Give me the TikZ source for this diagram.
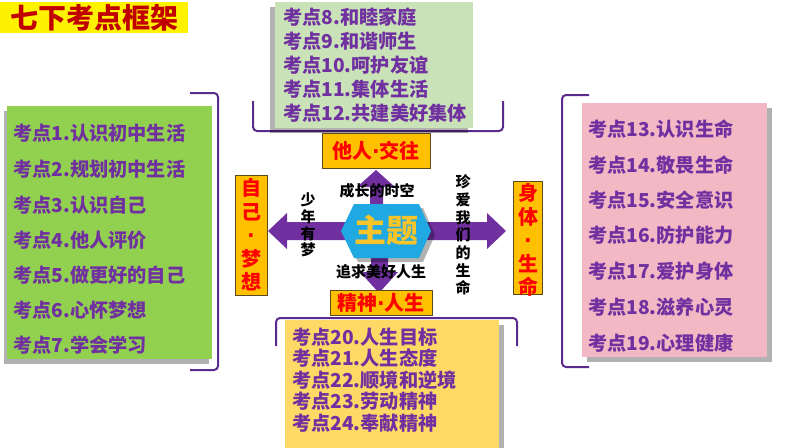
\documentclass[tikz,border=0pt]{standalone}
\usepackage{fontspec}
\setmainfont{Noto Sans CJK SC}
\newfontfamily\latinf{DejaVu Sans}
\usetikzlibrary{shadows}
\definecolor{itemc}{HTML}{7030A0}
\definecolor{titlec}{HTML}{C00000}
\definecolor{lgreen}{HTML}{C9E2B8}
\definecolor{dgreen}{HTML}{92D050}
\definecolor{pinkc}{HTML}{F2B8C4}
\definecolor{yelc}{HTML}{FFD966}
\definecolor{orangec}{HTML}{FFC000}
\definecolor{tagborder}{HTML}{5A4A20}
\definecolor{brkc}{HTML}{5B2A8E}
\definecolor{arrc}{HTML}{7030A0}
\definecolor{hexc}{HTML}{1FA8E2}
\definecolor{zhutic}{HTML}{F7C42A}
\newcommand{\ndot}{{\latinf\bfseries ·}}
\begin{document}
\begin{tikzpicture}[x=1pt,y=-1pt,
  kd/.style={anchor=west,inner sep=0pt,text=itemc,font=\bfseries\fontsize{19.2}{21}\selectfont},
  kdbig/.style={anchor=west,inner sep=0pt,text=itemc,font=\bfseries\fontsize{19.2}{22}\selectfont},
  boxnode/.style={anchor=north west,inner sep=0pt,draw=none},
  shad/.style={drop shadow={shadow xshift=#1,shadow yshift=-5pt,fill=black,opacity=0.3}},
  tag/.style={fill=orangec,draw=tagborder,line width=0.7pt,inner sep=0pt,text=red,font=\bfseries\fontsize{20}{23}\selectfont},
  vtag/.style={inner sep=0pt,text=red,align=center,font=\bfseries\fontsize{20}{23.5}\selectfont},
  brk/.style={draw=brkc,line width=2pt,rounded corners=4pt},
  arr/.style={fill=arrc,draw=none},
  lbl/.style={font=\bfseries\fontsize{15}{17}\selectfont,inner sep=0pt,align=center}
]
\useasboundingbox (0,0) rectangle (794,447);

% title
\node[boxnode,fill=yellow,minimum width=188pt,minimum height=31pt] (titlebox) at (0,2) {};
\node[inner sep=0pt,text=titlec,font=\bfseries\fontsize{28}{30}\selectfont] (title) at (94,18) {七下考点框架};

% brackets
\draw[brk] (190,93) -- (218,93) -- (218,370) -- (190,370);
\draw[brk] (589,95) -- (562,95) -- (562,367) -- (589,367);
\draw[brk] (253,101) -- (253,131) -- (503,131) -- (503,101);
\draw[brk] (276,346) -- (276,318) -- (517,318) -- (517,346);

% boxes
\node[boxnode,fill=lgreen,shad=-5pt,minimum width=198pt,minimum height=126pt] (topbox) at (275,2) {};
\node[boxnode,fill=dgreen,shad=-3pt,minimum width=205pt,minimum height=253pt] (leftbox) at (7,106) {};
\node[boxnode,fill=pinkc,shad=5pt,minimum width=185pt,minimum height=254pt] (rightbox) at (582,103) {};
\node[boxnode,fill=yelc,shad=5pt,minimum width=214pt,minimum height=128pt] (botbox) at (285,320) {};

% top items
\node[kdbig] (k8) at (283,17) {考点8.和睦家庭};
\node[kdbig] (k9) at (283,41) {考点9.和谐师生};
\node[kdbig] (k10) at (283,65) {考点10.呵护友谊};
\node[kdbig] (k11) at (283,89) {考点11.集体生活};
\node[kdbig] (k12) at (283,113) {考点12.共建美好集体};

% left items
\node[kd] (k1) at (13,133) {考点1.认识初中生活};
\node[kd] (k2) at (13,169) {考点2.规划初中生活};
\node[kd] (k3) at (13,205) {考点3.认识自己};
\node[kd] (k4) at (13,240) {考点4.他人评价};
\node[kd] (k5) at (13,275) {考点5.做更好的自己};
\node[kd] (k6) at (13,310) {考点6.心怀梦想};
\node[kd] (k7) at (13,345) {考点7.学会学习};

% right items
\node[kd] (k13) at (588,129) {考点13.认识生命};
\node[kd] (k14) at (588,165) {考点14.敬畏生命};
\node[kd] (k15) at (588,200) {考点15.安全意识};
\node[kd] (k16) at (588,235) {考点16.防护能力};
\node[kd] (k17) at (588,271) {考点17.爱护身体};
\node[kd] (k18) at (588,307) {考点18.滋养心灵};
\node[kd] (k19) at (588,343) {考点19.心理健康};

% bottom items
\node[kd] (k20) at (292,337) {考点20.人生目标};
\node[kd] (k21) at (292,358) {考点21.人生态度};
\node[kd] (k22) at (292,380) {考点22.顺境和逆境};
\node[kd] (k23) at (292,401) {考点23.劳动精神};
\node[kd] (k24) at (292,423) {考点24.奉献精神};

% arrows
\path[arr] (370,210) -- (370,187) -- (357,187) -- (376,170) -- (395,187) -- (383,187) -- (383,210) -- cycle;
\path[arr] (371,250) -- (371,272) -- (360,272) -- (379,293) -- (398,272) -- (388,272) -- (388,250) -- cycle;
\path[arr] (350,222) -- (287,222) -- (287,213) -- (268,231) -- (287,249) -- (287,240) -- (350,240) -- cycle;
\path[arr] (425,222) -- (487,222) -- (487,213) -- (506,231) -- (487,249) -- (487,240) -- (425,240) -- cycle;

% hexagon
\path[fill=hexc,drop shadow={shadow xshift=4pt,shadow yshift=-4pt,fill=black,opacity=0.3}]
  (341,231) -- (354,204) -- (419,204) -- (431,231) -- (419,258) -- (354,258) -- cycle;
\node[inner sep=0pt,text=zhutic,font=\bfseries\fontsize{32}{34}\selectfont] (zhuti) at (386,230) {主题};

% tags
\node[tag,minimum width=108pt,minimum height=35pt] (tagtop) at (376,151) {他人\ndot 交往};
\node[tag,minimum width=102pt,minimum height=25pt] (tagbot) at (381,303) {精神\ndot 人生};
\node[tag,minimum width=32pt,minimum height=120pt] (tagleft) at (251,235) {};
\node[vtag] (tagleftt) at (251,235) {自\\己\\\ndot\\梦\\想};
\node[tag,minimum width=29pt,minimum height=113pt] (tagright) at (528,238) {};
\node[vtag] (tagrightt) at (528,240) {身\\体\\\ndot\\生\\命};

% labels
\node[lbl] (l1) at (377,191) {成长的时空};
\node[lbl] (l2) at (381,272) {追求美好人生};
\node[lbl,font=\bfseries\fontsize{15}{16.8}\selectfont] (l3) at (308,225) {少\\年\\有\\梦};
\node[lbl,font=\bfseries\fontsize{15}{17.7}\selectfont] (l4) at (463,235) {珍\\爱\\我\\们\\的\\生\\命};
\end{tikzpicture}
\end{document}
